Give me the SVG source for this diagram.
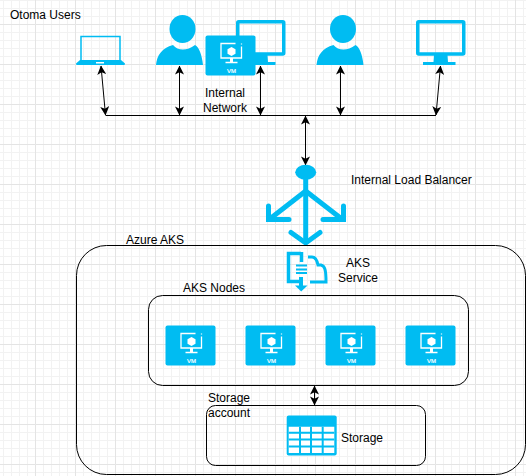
<svg xmlns="http://www.w3.org/2000/svg" width="526" height="476" viewBox="0 0 526 476">
<defs>
<pattern id="minor" x="-4" y="0" width="8" height="8" patternUnits="userSpaceOnUse"><path d="M7.500 0V8M0 .5H8" fill="none" stroke="#f2f2f2" stroke-width="1"/></pattern>
<pattern id="major" x="-4" y="-15" width="40" height="40" patternUnits="userSpaceOnUse"><path d="M40 0V40M0 40H40" fill="none" stroke="#e4e4e4" stroke-width="1" transform="translate(-.5 -.5)"/></pattern>
<marker id="a" viewBox="0 0 10 10" refX="9.500" refY="5" markerWidth="9" markerHeight="9" markerUnits="userSpaceOnUse" orient="auto-start-reverse"><path d="M0 0L10 5L0 10L2.500 5Z" fill="#000"/></marker>
<g id="vm"><rect width="50" height="40" rx="2" fill="#00bcf2"/><path d="M30 8H15.500V22.500H36V11M36 8V9" fill="none" stroke="#fff" stroke-width="1.300"/><path d="M26 22.500V26.500" stroke="#fff" stroke-width="3" fill="none"/><path d="M20 27H32" stroke="#fff" stroke-width="1.500" fill="none"/><path d="M26 11.500L30 13.700V18.300L26 20.500L22 18.300V13.700Z" fill="#fff"/><text x="26" y="37" class="vt">VM</text></g>
<g id="monitor"><rect x="1.750" y="1.750" width="46" height="32.250" rx="1" fill="none" stroke="#00bcf2" stroke-width="3.500"/><path d="M18 35H31.500L32 42H39.500V45H7V42H17.500Z" fill="#00bcf2"/></g>
<g id="person"><ellipse cx="26.500" cy="14" rx="13" ry="14" fill="#00bcf2"/><path d="M0 50C1 40 6 33 17 30C22 36 31 36 39 30C43 32 46 40 47 50Z" fill="#00bcf2"/></g>
</defs>
<style>text{font-family:"Liberation Sans",Arial,sans-serif;font-size:12px;fill:#000}.m{text-anchor:middle}.vt{font-size:6px;fill:#fff;text-anchor:middle;stroke:#fff;stroke-width:.2}.box{fill:none;stroke:#000;stroke-width:1}.c{fill:none;stroke:#000;stroke-width:1;marker-start:url(#a);marker-end:url(#a)}.lb{fill:none;stroke:#00bcf2;stroke-width:5;stroke-linecap:round;stroke-linejoin:miter}</style>
<rect width="526" height="476" fill="#fff"/>
<rect width="526" height="476" fill="url(#minor)"/>
<rect width="526" height="476" fill="url(#major)"/>
<text x="10" y="19">Otoma Users</text>
<g id="laptop"><path d="M81 36.500H120V61H81Z" fill="none" stroke="#00bcf2" stroke-width="1.500"/><path d="M80 60H121L125 63.500Q125 65 124 65H77Q76 65 76 63.500Z" fill="#00bcf2"/><rect x="96" y="62" width="8" height="1.500" fill="#fff"/></g>
<use id="person1" href="#person" x="156" y="15"/>
<use id="monitor1" href="#monitor" x="236" y="20"/>
<use id="vm-internal" href="#vm" x="205.500" y="35.500"/>
<use id="person2" href="#person" x="316.500" y="15"/>
<use id="monitor2" href="#monitor" x="416" y="20"/>
<text class="m" x="225" y="97">Internal</text>
<text class="m" x="225" y="112">Network</text>
<g id="connectors">
<path d="M105.500 115.500H436" fill="none" stroke="#000"/>
<path class="c" d="M101 66L105.500 115"/>
<path class="c" d="M179.500 66V115"/>
<path class="c" d="M260.500 66V115"/>
<path class="c" d="M340.500 66V115"/>
<path class="c" d="M440.500 66L436 115"/>
<path class="c" d="M305.500 116V165"/>
<path class="c" d="M314.500 386V405"/>
</g>
<g id="load-balancer">
<ellipse cx="305.700" cy="172.300" rx="10.500" ry="7.500" fill="#00bcf2"/>
<path class="lb" d="M305.700 178V242"/>
<path class="lb" d="M305.700 191L271 218M340.500 218L305.700 191"/>
<path class="lb" d="M268.500 206V219.500H289M343.500 206V219.500H323"/>
<path class="lb" d="M291 232.500L305.700 243L320 232.500"/>
</g>
<text x="351" y="184">Internal Load Balancer</text>
<text x="126" y="244">Azure AKS</text>
<g id="azure-aks"><rect class="box" x="76.500" y="245.500" width="449" height="229" rx="30"/></g>
<g id="aks-service" fill="none" stroke="#00bcf2" stroke-width="3.500">
<path d="M301 253.500H288.500V281.500H299"/><path d="M301.500 252V262"/><path d="M308 257H312C315 257 317 260 318 265H321C325 266 326 270 326 282H310" stroke-width="3"/>
<path d="M296 265.500H307M296 269.500H307M296 273H307" stroke-width="2"/>
<path d="M301 277V287" stroke-width="4"/><path d="M295 285.500H307.500L301.200 291.500Z" fill="#00bcf2" stroke="none"/>
</g>
<text class="m" x="358" y="267">AKS</text>
<text class="m" x="358" y="282">Service</text>
<text x="183" y="292">AKS Nodes</text>
<g id="aks-nodes"><rect class="box" x="148.500" y="295.500" width="320" height="90" rx="14"/></g>
<use id="vm1" href="#vm" x="165.500" y="325.500"/>
<use id="vm2" href="#vm" x="245.500" y="325.500"/>
<use id="vm3" href="#vm" x="325.500" y="325.500"/>
<use id="vm4" href="#vm" x="405.500" y="325.500"/>
<g id="storage-account"><rect class="box" x="206.500" y="405.500" width="219" height="60" rx="9"/></g>
<text x="208" y="402">Storage</text>
<text x="208" y="417">account</text>
<g id="storage"><rect x="286.700" y="415.500" width="50" height="40" rx="2" fill="#00bcf2"/><path d="M288.700 426.700H334.300V453H288.700Z" fill="#fff"/><path d="M288.700 432.800H334.300M288.700 439.500H334.300M288.700 446.500H334.300M300 426.700V453M311 426.700V453M322.700 426.700V453" fill="none" stroke="#00bcf2" stroke-width="2"/></g>
<text x="341" y="442">Storage</text>
</svg>
